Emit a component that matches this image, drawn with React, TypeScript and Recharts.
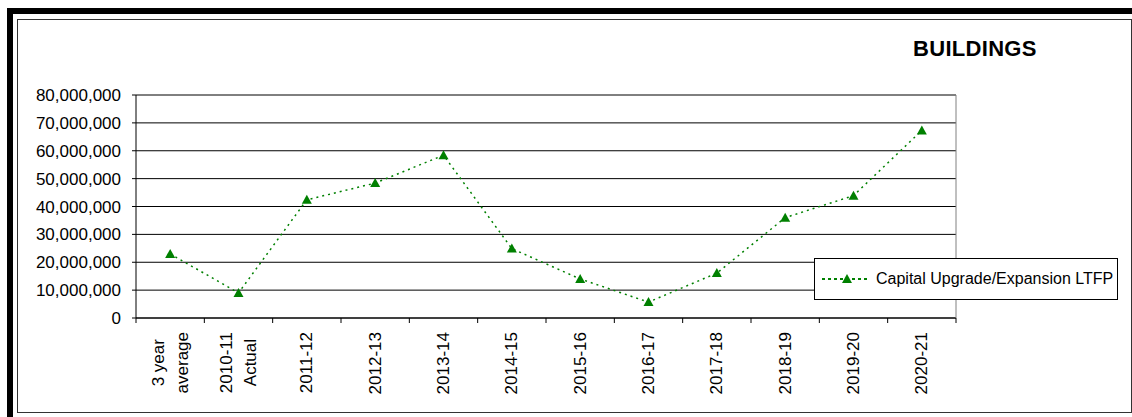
import React from "react";
import {
  LineChart,
  Line,
  XAxis,
  YAxis,
  CartesianGrid,
  Legend,
  ReferenceLine,
} from "recharts";

const categories = [
  "3 year\naverage",
  "2010-11\nActual",
  "2011-12",
  "2012-13",
  "2013-14",
  "2014-15",
  "2015-16",
  "2016-17",
  "2017-18",
  "2018-19",
  "2019-20",
  "2020-21",
];

const capitalUpgrade = [
  23000000, 9000000, 42400000, 48400000, 58400000, 24900000, 14000000,
  5700000, 16100000, 36000000, 43900000, 67300000,
];

const yTicks = [
  0, 10000000, 20000000, 30000000, 40000000, 50000000, 60000000, 70000000,
  80000000,
];

const seriesName = "Capital Upgrade/Expansion LTFP";
const title = "BUILDINGS";

const data = categories.map((c, i) => ({ name: c, value: capitalUpgrade[i] }));

const FONT = '"Liberation Sans", Arial, sans-serif';
const GREEN = "#008000";
const W = 1132;
const H = 417;
const margin = { top: 95, right: 175, bottom: 9, left: 36 };
const Y_AXIS_W = 100;
const R_AXIS_W = 1;
const X_AXIS_H = 90;
const PLOT_W = W - margin.left - margin.right - Y_AXIS_W - R_AXIS_W;
const BAND = PLOT_W / categories.length;

let ctx: CanvasRenderingContext2D | null = null;
const measure = (s: string) => {
  if (!ctx) {
    ctx = document.createElement("canvas").getContext("2d");
    if (ctx) ctx.font = `17px ${FONT}`;
  }
  return ctx ? ctx.measureText(s).width : s.length * 9;
};

// category labels are rotated and tick marks sit between categories
const XTick = (props: any) => {
  const { x, y, payload, index } = props;
  const lines = String(payload.value).split("\n");
  const block = Math.max(...lines.map(measure));
  const half = BAND / 2;
  const pad = 14;
  const lh = 24;
  return (
    <g>
      <line x1={x - half} y1={y} x2={x - half} y2={y + 5} stroke="#000" />
      {index === categories.length - 1 && (
        <line x1={x + half} y1={y} x2={x + half} y2={y + 5} stroke="#000" />
      )}
      <g transform={`translate(${x},${y}) rotate(-90)`}>
        {lines.map((l, i) => (
          <text
            key={i}
            x={-(pad + block / 2)}
            y={(i - (lines.length - 1) / 2) * lh}
            textAnchor="middle"
            dominantBaseline="central"
            fontSize={17}
            fontFamily={FONT}
            fill="#000"
          >
            {l}
          </text>
        ))}
      </g>
    </g>
  );
};

const Triangle = (p: any) => {
  const { cx, cy } = p;
  if (cx == null || cy == null) return null;
  return (
    <polygon
      points={`${cx},${cy - 5} ${cx + 5},${cy + 4} ${cx - 5},${cy + 4}`}
      fill={GREEN}
    />
  );
};

const LegendBox = () => (
  <div
    style={{
      width: 302,
      height: 40,
      border: "1px solid #000",
      background: "#fff",
      display: "flex",
      alignItems: "center",
      fontFamily: FONT,
    }}
  >
    <svg width={54} height={16} style={{ marginLeft: 7 }}>
      <line
        x1={0}
        y1={8}
        x2={48}
        y2={8}
        stroke={GREEN}
        strokeWidth={2}
        strokeDasharray="3 3"
      />
      <polygon points="25,3 30,12 20,12" fill={GREEN} />
    </svg>
    <span style={{ fontSize: 16, color: "#000" }}>{seriesName}</span>
  </div>
);

export default function App() {
  return (
    <div
      style={{
        position: "relative",
        width: W,
        height: H,
        overflow: "hidden",
        background: "#fff",
        fontFamily: FONT,
      }}
    >
      <style>{`body{margin:0}`}</style>
      <div
        style={{
          position: "absolute",
          left: 7,
          top: 8,
          right: -20,
          bottom: -20,
          borderTop: "6px solid #000",
          borderLeft: "6px solid #000",
        }}
      />
      <div
        style={{
          position: "absolute",
          left: 17,
          top: 19,
          width: 1113,
          height: 392,
          border: "1px solid #333",
        }}
      />
      <LineChart width={W} height={H} data={data} margin={margin}>
        <CartesianGrid
          yAxisId="l"
          horizontal
          vertical={false}
          stroke="#000"
        />
        <ReferenceLine yAxisId="l" y={80000000} stroke="#808080" />
        <XAxis
          dataKey="name"
          scale="band"
          height={X_AXIS_H}
          interval={0}
          tickSize={0}
          tickMargin={0}
          tickLine={false}
          axisLine={{ stroke: "#000" }}
          tick={<XTick />}
        />
        <YAxis
          yAxisId="l"
          width={Y_AXIS_W}
          domain={[0, 80000000]}
          ticks={yTicks}
          interval={0}
          tickSize={4}
          tickMargin={11}
          tickLine={{ stroke: "#000" }}
          axisLine={{ stroke: "#000" }}
          tick={{ fontSize: 17, fill: "#000", fontFamily: FONT }}
          tickFormatter={(v: number) => v.toLocaleString("en-US")}
        />
        <YAxis
          yAxisId="r"
          orientation="right"
          width={R_AXIS_W}
          domain={[0, 80000000]}
          tick={false}
          tickLine={false}
          axisLine={{ stroke: "#808080" }}
        />
        <Legend
          layout="vertical"
          align="center"
          verticalAlign="middle"
          content={() => <LegendBox />}
          wrapperStyle={{ left: 814, top: 258, width: 304, height: 42 }}
        />
        <Line
          yAxisId="l"
          dataKey="value"
          name={seriesName}
          stroke={GREEN}
          strokeWidth={1.5}
          strokeDasharray="2 4"
          dot={<Triangle />}
          activeDot={false}
          isAnimationActive={false}
        />
      </LineChart>
      <div
        style={{
          position: "absolute",
          left: 913,
          top: 38,
          fontSize: 22,
          lineHeight: "22px",
          fontWeight: "bold",
          letterSpacing: 0.3,
          color: "#000",
        }}
      >
        {title}
      </div>
    </div>
  );
}
